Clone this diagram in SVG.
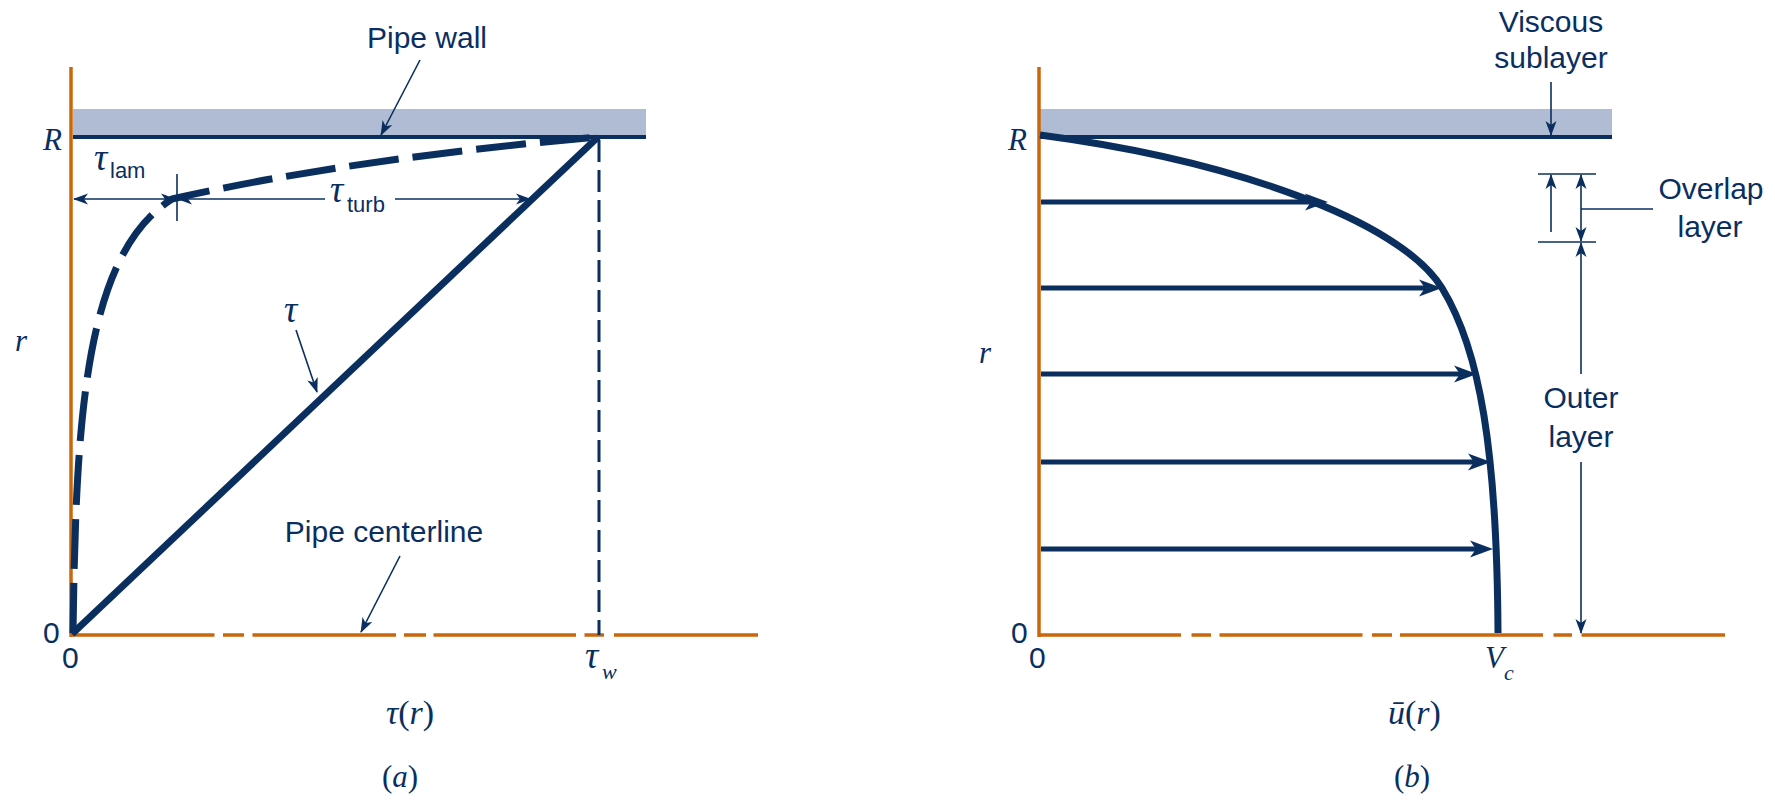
<svg xmlns="http://www.w3.org/2000/svg" width="1775" height="806" viewBox="0 0 1775 806">
<style>
.ax{stroke:#c9670b;stroke-width:3.5;fill:none}
.band{fill:#b0bcd4}
.wall{stroke:#0a2f5f;stroke-width:4;fill:none}
.thick{stroke:#0a2f5f;stroke-width:7;fill:none}
.vel{stroke:#0a2f5f;stroke-width:5;fill:none}
.thin{stroke:#0a2f5f;stroke-width:1.6;fill:none}
.sans{font-family:"Liberation Sans",Arial,sans-serif;font-size:30px;fill:#0a2f5f}
.sub{font-family:"Liberation Sans",Arial,sans-serif;font-size:22px;fill:#0a2f5f}
.it{font-family:"Liberation Serif","DejaVu Serif",serif;font-style:italic;font-size:31px;fill:#0a2f5f}
.tau{font-family:"Liberation Serif","DejaVu Serif",serif;font-style:italic;font-size:37px;fill:#0a2f5f}
.its{font-family:"Liberation Serif","DejaVu Serif",serif;font-style:italic;font-size:22px;fill:#0a2f5f}
.fn{font-family:"Liberation Serif","DejaVu Serif",serif;font-style:italic;font-size:34px;fill:#0a2f5f}
.up{font-style:normal}
</style>
<defs>
<marker id="ah" viewBox="-20 -10 40 20" markerWidth="40" markerHeight="20" refX="0" refY="0" orient="auto" markerUnits="userSpaceOnUse" overflow="visible">
<path d="M14,0 L-9,-8.5 L-3,0 L-9,8.5 Z" fill="#0a2f5f"/>
</marker>
<marker id="at" viewBox="-20 -10 40 20" markerWidth="40" markerHeight="20" refX="0" refY="0" orient="auto-start-reverse" markerUnits="userSpaceOnUse" overflow="visible">
<path d="M1,0 L-14,-5.5 L-10,0 L-14,5.5 Z" fill="#0a2f5f"/>
</marker>
</defs>

<g id="panel-a-wall">
<rect class="band" x="73" y="109" width="573" height="27"/>
<line class="wall" x1="73" y1="137" x2="646" y2="137"/>
</g>
<g id="panel-a-axes">
<line class="ax" x1="71" y1="67" x2="71" y2="637"/>
<path class="ax" d="M70,635 H214.5 M223,635 H244 M252.5,635 H396 M404,635 H426 M433.5,635 H576 M584.5,635 H604 M614,635 H758"/>
</g>
<g id="panel-a-curves">
<line class="thick" x1="72" y1="634" x2="598" y2="137"/>
<path class="thick" stroke-dasharray="50 14" d="M73,633 C76,420 84,255 172,199 C300,170 450,150 597,137"/>
<line stroke="#0a2f5f" stroke-width="3" stroke-dasharray="22 8" x1="599" y1="140" x2="599" y2="635"/>
</g>
<g id="panel-a-labels">
<text class="sans" x="427" y="48" text-anchor="middle">Pipe wall</text>
<text class="sans" x="384" y="542" text-anchor="middle">Pipe centerline</text>
<text class="it" x="43" y="150">R</text>
<text class="it" x="15" y="351">r</text>
<text class="sans" x="43" y="643">0</text>
<text class="sans" x="62" y="668">0</text>
<text class="tau" x="94" y="170">τ</text><text class="sub" x="110" y="178">lam</text>
<text class="tau" x="330" y="202">τ</text><text class="sub" x="347" y="212">turb</text>
<text class="tau" x="284" y="322">τ</text>
<text class="tau" x="585" y="668">τ</text><text class="its" x="602" y="679">w</text>
<text class="fn" x="386" y="724">τ<tspan class="up">(</tspan>r<tspan class="up">)</tspan></text>
<text class="it" x="382" y="787"><tspan class="up">(</tspan>a<tspan class="up">)</tspan></text>
</g>

<g id="panel-b-wall">
<rect class="band" x="1040" y="109" width="572" height="27"/>
<line class="wall" x1="1040" y1="137" x2="1612" y2="137"/>
</g>
<g id="panel-b-axes">
<line class="ax" x1="1039" y1="67" x2="1039" y2="637"/>
<path class="ax" d="M1038,635 H1181 M1191.5,635 H1211 M1219.5,635 H1362.5 M1372,635 H1392 M1400,635 H1543 M1553.5,635 H1572 M1581.5,635 H1725"/>
</g>
<g id="panel-b-profile">
<path class="thick" stroke-width="6.5" d="M1040,135 C1230,160 1400,220 1442,288 C1480,350 1497,450 1498,633"/>
<line class="vel" marker-end="url(#ah)" x1="1041" y1="202" x2="1314" y2="202"/>
<line class="vel" marker-end="url(#ah)" x1="1041" y1="288" x2="1428" y2="288"/>
<line class="vel" marker-end="url(#ah)" x1="1041" y1="374" x2="1463" y2="374"/>
<line class="vel" marker-end="url(#ah)" x1="1041" y1="462" x2="1477" y2="462"/>
<line class="vel" marker-end="url(#ah)" x1="1041" y1="549" x2="1479" y2="549"/>
</g>
<g id="panel-b-labels">
<text class="sans" x="1551" y="32" text-anchor="middle">Viscous</text>
<text class="sans" x="1551" y="68" text-anchor="middle">sublayer</text>
<text class="sans" x="1711" y="199" text-anchor="middle">Overlap</text>
<text class="sans" x="1710" y="237" text-anchor="middle">layer</text>
<text class="sans" x="1581" y="408" text-anchor="middle">Outer</text>
<text class="sans" x="1581" y="447" text-anchor="middle">layer</text>
<text class="it" x="1008" y="150">R</text>
<text class="it" x="979" y="363">r</text>
<text class="sans" x="1011" y="643">0</text>
<text class="sans" x="1029" y="668">0</text>
<text class="it" x="1485" y="668">V</text><text class="its" x="1504" y="680">c</text>
<text class="fn" x="1388" y="724">ū<tspan class="up">(</tspan>r<tspan class="up">)</tspan></text>
<text class="it" x="1394" y="787"><tspan class="up">(</tspan>b<tspan class="up">)</tspan></text>
</g>

<g id="connectors">
<line class="thin" marker-start="url(#at)" marker-end="url(#at)" x1="74" y1="199" x2="175" y2="199"/>
<line class="thin" x1="177" y1="174" x2="177" y2="221"/>
<line class="thin" marker-start="url(#at)" x1="178" y1="199" x2="325" y2="199"/>
<line class="thin" marker-end="url(#at)" x1="395" y1="199" x2="530" y2="199"/>
<line class="thin" marker-end="url(#at)" x1="420" y1="60" x2="381" y2="135"/>
<line class="thin" marker-end="url(#at)" x1="296" y1="330" x2="317" y2="392"/>
<line class="thin" marker-end="url(#at)" x1="400" y1="556" x2="361" y2="632"/>
<line class="thin" marker-end="url(#at)" x1="1551" y1="82" x2="1551" y2="135"/>
<line class="thin" x1="1538" y1="174" x2="1596" y2="174"/>
<line class="thin" x1="1538" y1="242" x2="1596" y2="242"/>
<line class="thin" marker-end="url(#at)" x1="1551" y1="232" x2="1551" y2="175"/>
<line class="thin" marker-start="url(#at)" marker-end="url(#at)" x1="1581" y1="175" x2="1581" y2="241"/>
<line class="thin" x1="1581" y1="209" x2="1653" y2="209"/>
<line class="thin" marker-start="url(#at)" x1="1581" y1="243" x2="1581" y2="374"/>
<line class="thin" marker-end="url(#at)" x1="1581" y1="462" x2="1581" y2="633"/>
</g>
</svg>
